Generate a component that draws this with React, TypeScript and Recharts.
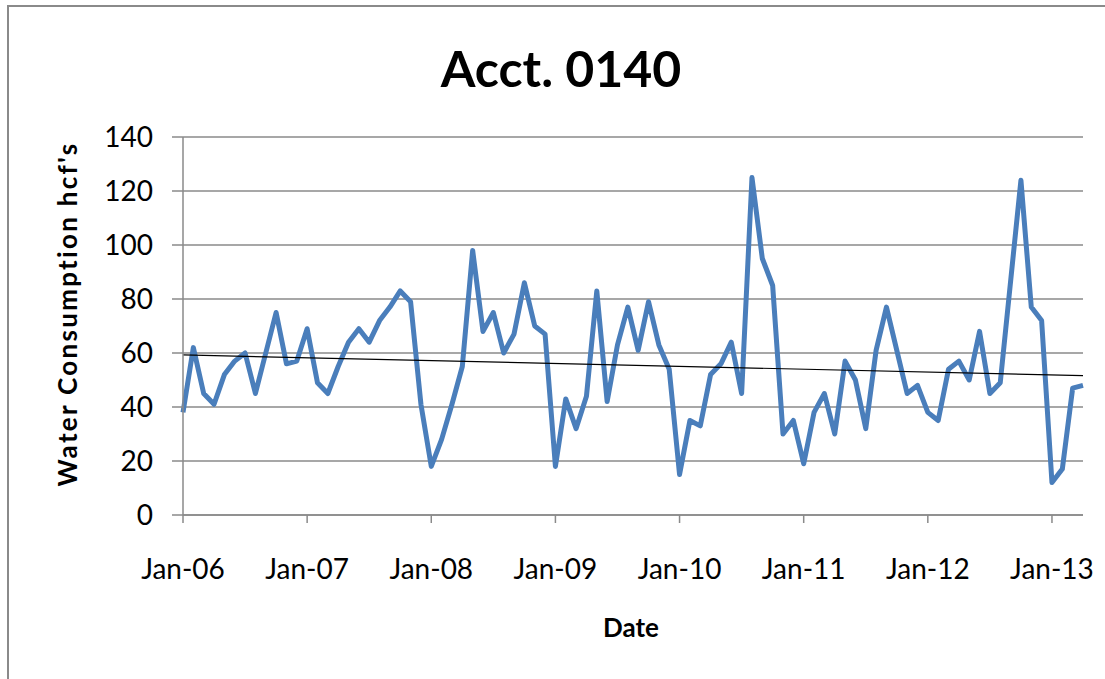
import { CartesianGrid, Line, LineChart, ReferenceLine, XAxis, YAxis } from 'recharts';

const monthNames = ['Jan', 'Feb', 'Mar', 'Apr', 'May', 'Jun', 'Jul', 'Aug', 'Sep', 'Oct', 'Nov', 'Dec'];
const years = ['06', '07', '08', '09', '10', '11', '12', '13'];

// monthly water consumption (hcf), null = no reading that month
const usage2006 = [38, 62, 45, 41, 52, 57, 60, 45, 60, 75, 56, 57];
const usage2007 = [69, 49, 45, 55, 64, 69, 64, 72, 77, 83, 79, 41];
const usage2008 = [18, 28, 41, 55, 98, 68, 75, 60, 67, 86, 70, 67];
const usage2009 = [18, 43, 32, 44, 83, 42, 63, 77, 61, 79, 63, 54];
const usage2010 = [15, 35, 33, 52, 56, 64, 45, 125, 95, 85, 30, 35];
const usage2011 = [19, 38, 45, 30, 57, 50, 32, 61, 77, 61, 45, 48];
const usage2012 = [38, 35, 54, 57, 50, 68, 45, 49, null, 124, 77, 72];
const usage2013 = [12, 17, 47, 48];

const usageByYear = [usage2006, usage2007, usage2008, usage2009, usage2010, usage2011, usage2012, usage2013];

const yTicks = [0, 20, 40, 60, 80, 100, 120, 140];
const xTicks = years.map((y) => `Jan-${y}`);

// linear trendline end values
const trendStart = 59.3;
const trendEnd = 51.6;

const data = usageByYear.flatMap((vals, yi) =>
  vals.map((v, mi) => ({ date: `${monthNames[mi]}-${years[yi]}`, usage: v })),
);
const firstDate = data[0].date;
const lastDate = data[data.length - 1].date;

const font = 'Lato, "Open Sans", sans-serif';
const gray = '#8a8a8a';

export default function App() {
  return (
    <div
      style={{
        position: 'absolute',
        left: 0,
        top: 0,
        width: 1105,
        height: 679,
        background: '#fff',
        overflow: 'hidden',
        fontFamily: font,
      }}
    >
      <div
        style={{
          position: 'absolute',
          left: 7,
          top: 5,
          width: 1200,
          height: 800,
          borderTop: `2px solid ${gray}`,
          borderLeft: `2px solid ${gray}`,
        }}
      />
      <div
        style={{
          position: 'absolute',
          left: 0,
          width: 1122,
          top: 38,
          textAlign: 'center',
          fontSize: 50,
          fontWeight: 700,
          lineHeight: '60px',
          color: '#000',
        }}
      >
        Acct. 0140
      </div>
      <div
        style={{
          position: 'absolute',
          left: 67,
          top: 314,
          transform: 'translate(-50%, -50%) rotate(-90deg)',
          whiteSpace: 'nowrap',
          fontSize: 26,
          letterSpacing: 2.3,
          fontWeight: 700,
          color: '#000',
        }}
      >
        Water Consumption hcf's
      </div>
      <div
        style={{
          position: 'absolute',
          left: 631,
          top: 627,
          transform: 'translate(-50%, -50%)',
          fontSize: 26,
          fontWeight: 700,
          color: '#000',
        }}
      >
        Date
      </div>
      <div style={{ position: 'absolute', left: 0, top: 0 }}>
        <LineChart width={1105} height={679} data={data} margin={{ top: 137, right: 22, bottom: 0, left: 0 }}>
          <CartesianGrid vertical={false} stroke={gray} strokeWidth={1.5} />
          <YAxis
            width={183}
            domain={[0, 140]}
            ticks={yTicks}
            interval={0}
            tickSize={11}
            tickMargin={19}
            axisLine={{ stroke: gray, strokeWidth: 1.5 }}
            tickLine={{ stroke: gray, strokeWidth: 1.5 }}
            tick={{ fill: '#000', fontSize: 28, fontFamily: font }}
          />
          <XAxis
            dataKey="date"
            height={164}
            ticks={xTicks}
            interval={0}
            tickSize={8}
            tickMargin={36}
            axisLine={{ stroke: gray, strokeWidth: 1.5 }}
            tickLine={{ stroke: gray, strokeWidth: 1.5 }}
            tick={{ fill: '#000', fontSize: 28, fontFamily: font }}
          />
          <Line
            type="linear"
            dataKey="usage"
            stroke="#4a7ebb"
            strokeWidth={5}
            strokeLinejoin="round"
            dot={false}
            activeDot={false}
            connectNulls
            isAnimationActive={false}
          />
          <ReferenceLine
            segment={[
              { x: firstDate, y: trendStart },
              { x: lastDate, y: trendEnd },
            ]}
            stroke="#000"
            strokeWidth={1.2}
          />
        </LineChart>
      </div>
    </div>
  );
}
